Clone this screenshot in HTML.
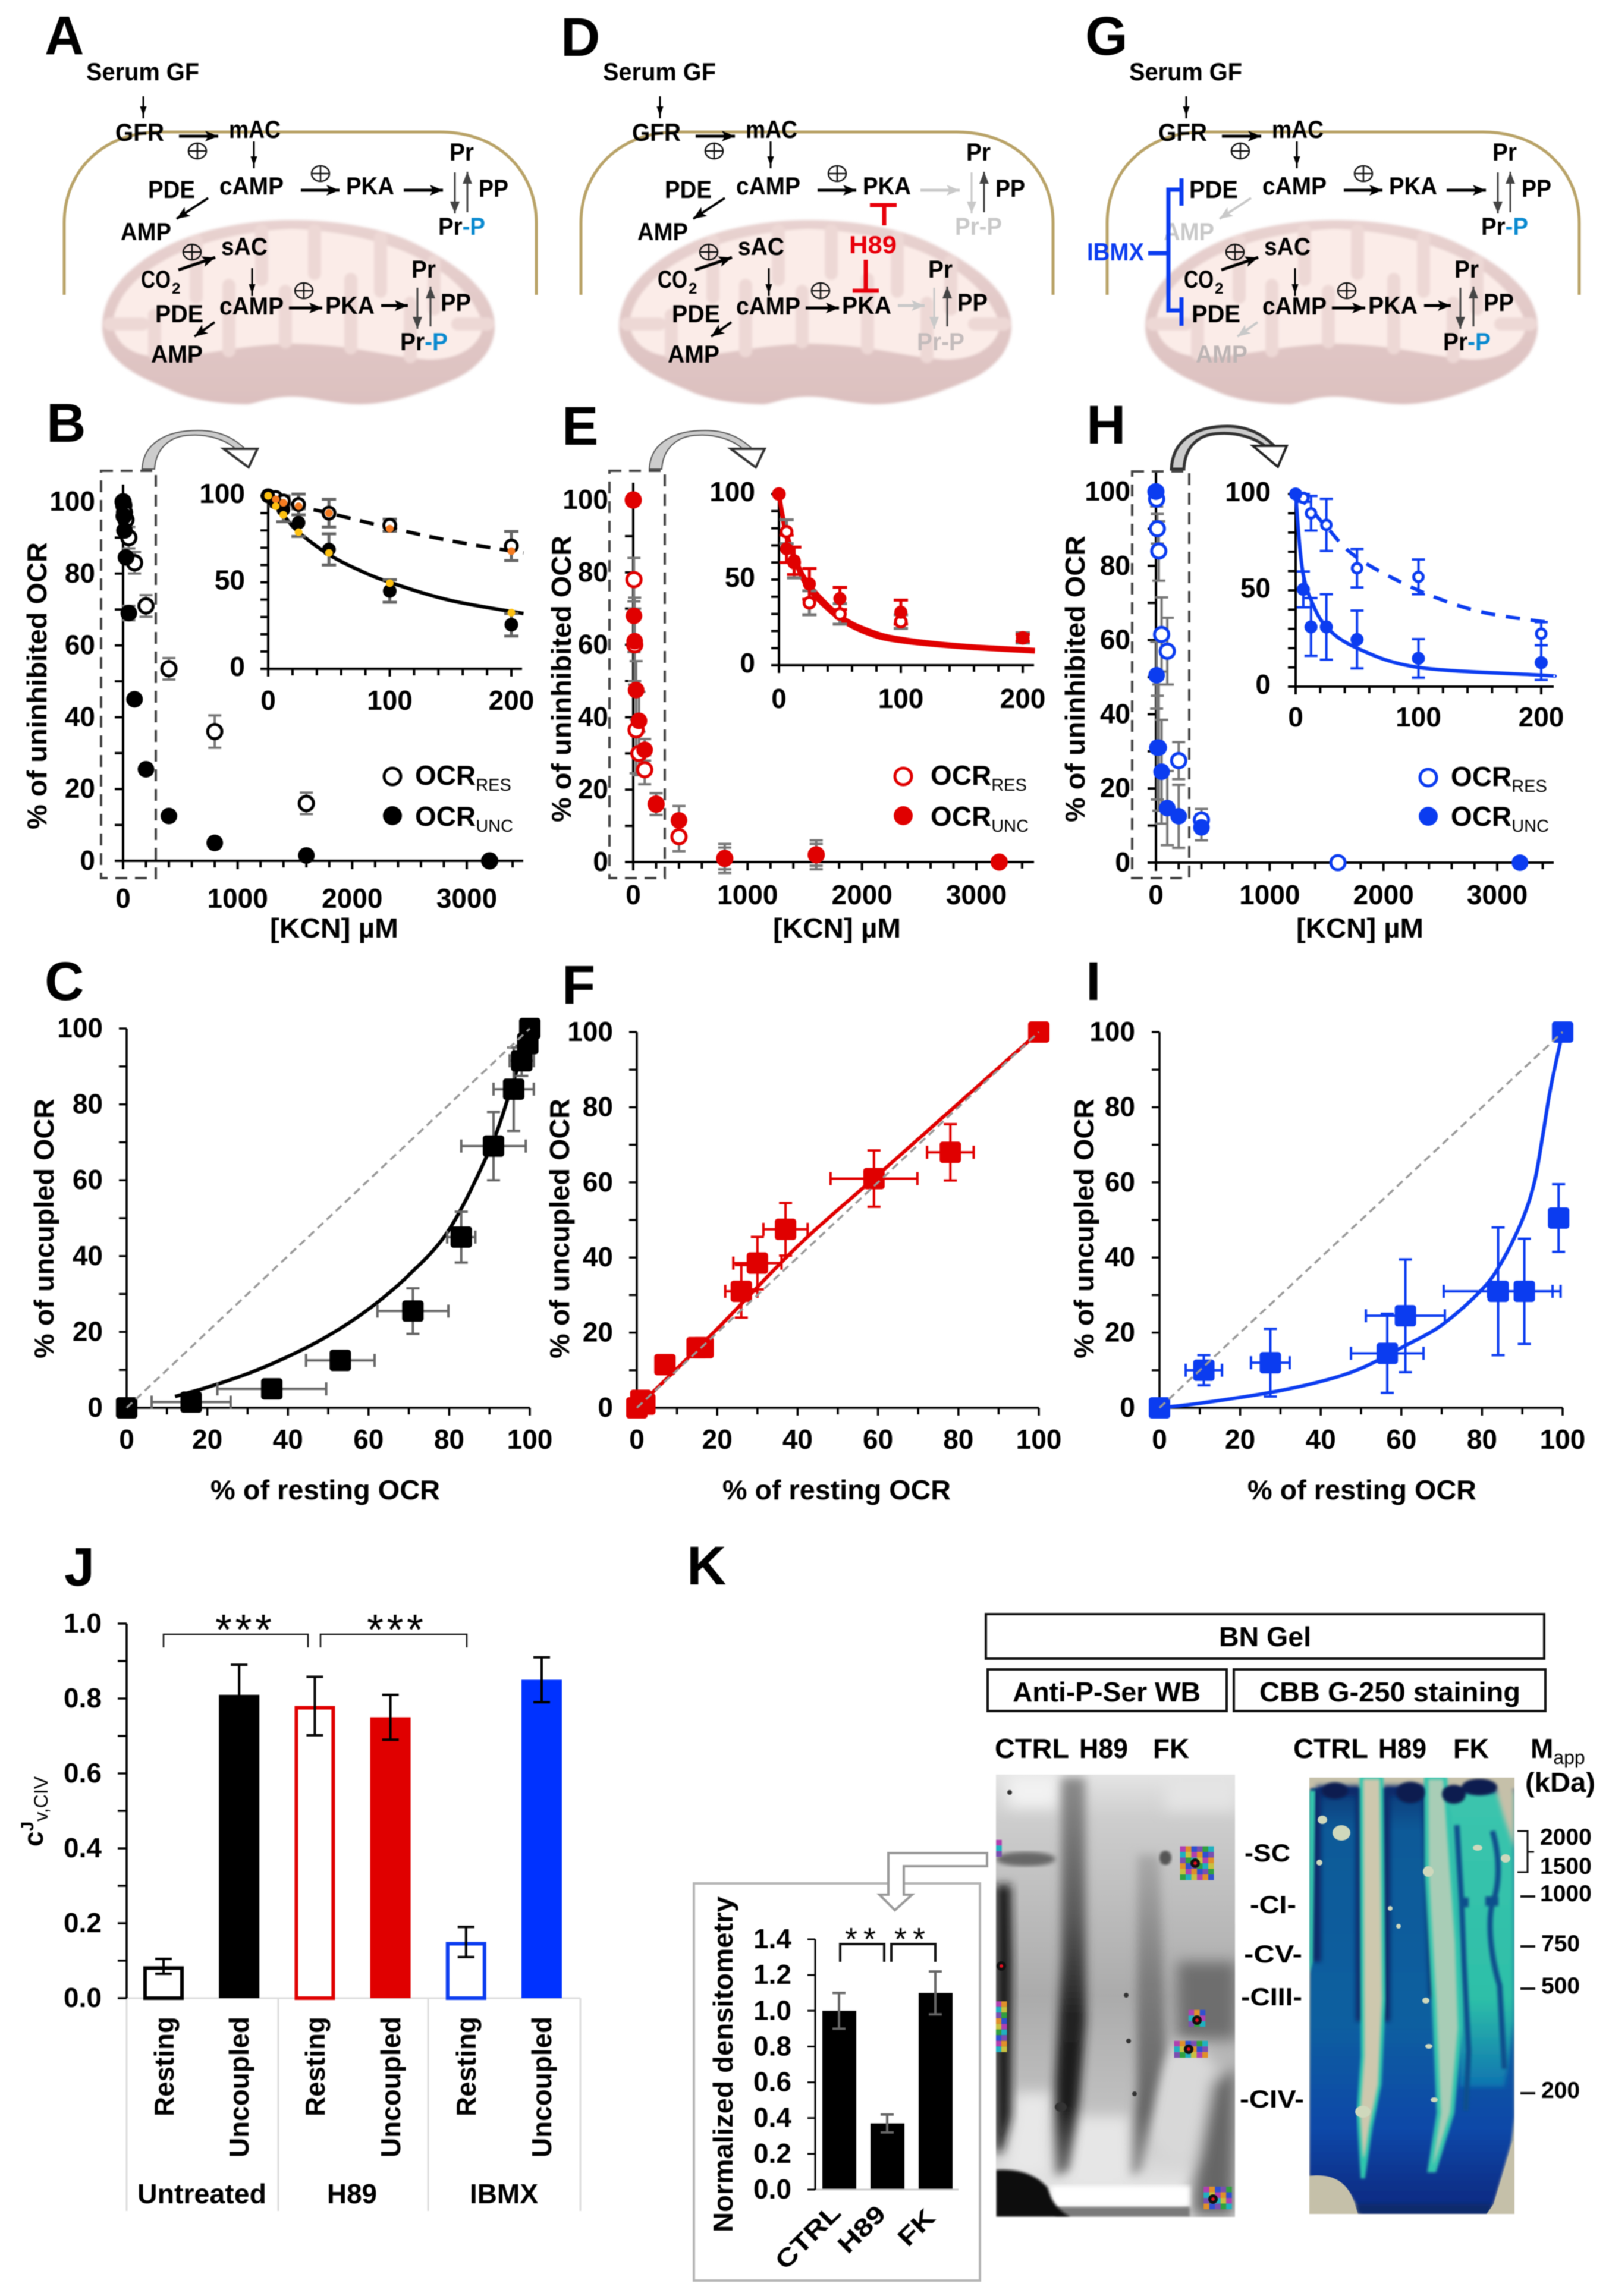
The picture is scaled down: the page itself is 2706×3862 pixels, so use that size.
<!DOCTYPE html>
<html lang="en">
<head>
<meta charset="utf-8">
<title>PKA regulation of mitochondrial respiration figure</title>
<style>
html,body{margin:0;padding:0;background:#fff;}
#figure{display:block;width:2706px;height:3862px;filter:blur(0.7px);}
text{font-family:"Liberation Sans",Arial,sans-serif;font-weight:700;fill:#000;}
.pl{font-size:92px;}
.pw text{font-size:42px;}
.t46{font-size:46px;}
.sub{font-size:29px;font-weight:400;}
.gl{font-size:46px;}
.mw{font-size:39px;}
.arrow{stroke:#000;stroke-width:5;fill:none;marker-end:url(#ah-k);}
.thin{stroke:#000;stroke-width:3;fill:none;marker-end:url(#ah-k2);}
.dk{stroke:#444;stroke-width:3;fill:none;marker-end:url(#ah-d);}
.off{stroke:#c9c9c9;stroke-width:5;fill:none;marker-end:url(#ah-l);}
.off2{stroke:#c9c9c9;stroke-width:3;fill:none;marker-end:url(#ah-l2);}
.box{fill:none;stroke:#444;stroke-width:4;stroke-dasharray:20 13;}
</style>
</head>
<body>
<svg id="figure" xmlns="http://www.w3.org/2000/svg" width="2706" height="3862" viewBox="0 0 2706 3862">
<defs>
<marker id="ah-k" markerUnits="userSpaceOnUse" markerWidth="24" markerHeight="20" refX="22" refY="10" orient="auto"><path d="M0,1L22,10L0,19L5,10Z" fill="#000"/></marker>
<marker id="ah-k2" markerUnits="userSpaceOnUse" markerWidth="16" markerHeight="22" refX="20" refY="9" orient="auto"><path d="M0,2L20,9L0,16Z" fill="#000" transform="translate(-4 0)"/></marker>
<marker id="ah-d" markerUnits="userSpaceOnUse" markerWidth="22" markerHeight="18" refX="20" refY="9" orient="auto"><path d="M0,1L20,9L0,17Z" fill="#444"/></marker>
<marker id="ah-l" markerUnits="userSpaceOnUse" markerWidth="24" markerHeight="20" refX="22" refY="10" orient="auto"><path d="M0,1L22,10L0,19L5,10Z" fill="#c9c9c9"/></marker>
<marker id="ah-l2" markerUnits="userSpaceOnUse" markerWidth="22" markerHeight="18" refX="20" refY="9" orient="auto"><path d="M0,1L20,9L0,17Z" fill="#c9c9c9"/></marker>
<linearGradient id="mito-fill" x1="0" y1="0" x2="0" y2="1"><stop offset="0" stop-color="#e8d2d0"/><stop offset="1" stop-color="#dcc0bf"/></linearGradient>
<linearGradient id="wb-bg" x1="0" y1="0" x2="0" y2="1"><stop offset="0" stop-color="#e4e4e4"/><stop offset=".1" stop-color="#cdcdcd"/><stop offset=".5" stop-color="#ababab"/><stop offset=".8" stop-color="#c4c4c4"/><stop offset=".95" stop-color="#e8e8e8"/></linearGradient>
<linearGradient id="wb-band-a" x1="0" y1="0" x2="0" y2="1"><stop offset="0" stop-color="#8c8c8c"/><stop offset=".35" stop-color="#5a5a5a"/><stop offset=".6" stop-color="#222"/><stop offset=".82" stop-color="#1a1a1a"/><stop offset="1" stop-color="#777"/></linearGradient>
<linearGradient id="wb-band-b" x1="0" y1="0" x2="0" y2="1"><stop offset="0" stop-color="#aaa"/><stop offset=".4" stop-color="#7c7c7c"/><stop offset=".8" stop-color="#666"/><stop offset="1" stop-color="#999"/></linearGradient>
<linearGradient id="cbb-blue" x1="0" y1="0" x2="0" y2="1"><stop offset="0" stop-color="#0d3a78"/><stop offset=".1" stop-color="#0f5a98"/><stop offset=".55" stop-color="#0f5fa0"/><stop offset=".8" stop-color="#0c48a8"/><stop offset=".95" stop-color="#0a2f88"/></linearGradient>
<linearGradient id="cbb-teal" x1="0" y1="0" x2="0" y2="1"><stop offset="0" stop-color="#3bc4ad"/><stop offset=".7" stop-color="#2dbfa8"/><stop offset="1" stop-color="#0e74b0"/></linearGradient>
<filter id="b12" x="-30%" y="-30%" width="160%" height="160%"><feGaussianBlur stdDeviation="12"/></filter>
<filter id="b8" x="-40%" y="-10%" width="180%" height="120%"><feGaussianBlur stdDeviation="8"/></filter>
<filter id="b4" x="-10%" y="-10%" width="120%" height="120%"><feGaussianBlur stdDeviation="4"/></filter>
<filter id="b2" x="-10%" y="-10%" width="120%" height="120%"><feGaussianBlur stdDeviation="2"/></filter>
<clipPath id="wb-clip"><rect x="1675" y="2985" width="402" height="744"/></clipPath>
<clipPath id="cbb-clip"><rect x="2202" y="2990" width="345" height="734"/></clipPath>
<g id="oplus"><ellipse cx="0" cy="0" rx="15" ry="13" fill="none" stroke="#111" stroke-width="2.5"/><path d="M-15,0H15M0,-13V13" stroke="#111" stroke-width="2.5"/></g>
<path id="membrane" d="M108,496V375C108,290 170,222 270,222H740C840,222 902,290 902,375V496" fill="none" stroke="#b9a368" stroke-width="5"/>
<g id="mito" filter="url(#b2)">
<path d="M172,549C172,480 240,430 300,405C360,380 430,370 491,370C570,370 650,385 701,411C770,445 832,490 832,549C832,590 800,625 752,643C700,665 650,680 606,680C560,680 530,667 491,667C450,667 430,680 415,680C370,680 320,672 287,656C240,636 172,610 172,549Z" fill="url(#mito-fill)"/>
<path d="M190,540C200,470 300,395 490,385C680,392 790,470 812,545C812,575 780,605 720,605C650,600 600,580 490,578C400,580 340,600 270,600C220,600 190,575 190,540Z" fill="#fbece8"/>
<path d="M330,405V500M440,388V470M529,388V460M640,400V490M730,440V520M260,595V530M385,590V480M480,575V490M590,585V470M690,600V510M185,545H240M820,545H770" stroke="#edd8d5" stroke-width="22" stroke-linecap="round" fill="none"/>
</g>
</defs>

<!-- Panel letters -->
<text class="pl" x="75" y="91">A</text>
<text class="pl" x="943" y="94">D</text>
<text class="pl" x="1825" y="92">G</text>
<text class="pl" x="78" y="743">B</text>
<text class="pl" x="945" y="748">E</text>
<text class="pl" x="1827" y="746">H</text>
<text class="pl" x="75" y="1682">C</text>
<text class="pl" x="945" y="1688">F</text>
<text class="pl" x="1826" y="1682">I</text>
<text class="pl" x="108" y="2667">J</text>
<text class="pl" x="1155" y="2665">K</text>

<!-- Panel A pathway -->
<g class="pw">
<use href="#mito"/>
<use href="#membrane"/>
<text x="145" y="135" textLength="190" lengthAdjust="spacingAndGlyphs">Serum GF</text>
<line class="thin" x1="241" y1="162" x2="241" y2="199"/>
<text x="194" y="237" textLength="82" lengthAdjust="spacingAndGlyphs">GFR</text>
<line class="arrow" x1="301" y1="229" x2="367" y2="229"/>
<use href="#oplus" x="332" y="254"/>
<text x="385" y="232" textLength="87" lengthAdjust="spacingAndGlyphs">mAC</text>
<line class="thin" x1="427" y1="238" x2="427" y2="283"/>
<text x="249" y="333" textLength="79" lengthAdjust="spacingAndGlyphs">PDE</text>
<text x="369" y="327" textLength="108" lengthAdjust="spacingAndGlyphs">cAMP</text>
<use href="#oplus" x="539" y="292"/>
<line class="arrow" x1="506" y1="320" x2="571" y2="320"/>
<text x="582" y="327" textLength="81" lengthAdjust="spacingAndGlyphs">PKA</text>
<line class="arrow" x1="679" y1="320" x2="745" y2="320"/>
<text x="756" y="270" textLength="41" lengthAdjust="spacingAndGlyphs">Pr</text>
<line class="dk" x1="765" y1="290" x2="765" y2="359"/>
<line class="dk" x1="786" y1="357" x2="786" y2="289"/>
<text x="805" y="331" textLength="50" lengthAdjust="spacingAndGlyphs">PP</text>
<text x="737" y="395" textLength="79" lengthAdjust="spacingAndGlyphs">Pr<tspan fill="#0a8ad0">-P</tspan></text>
<line class="arrow" x1="350" y1="333" x2="297" y2="368" style="stroke-width:4"/>
<text x="203" y="404" textLength="85" lengthAdjust="spacingAndGlyphs">AMP</text>
<use href="#oplus" x="323" y="424"/>
<text x="372" y="429" textLength="78" lengthAdjust="spacingAndGlyphs">sAC</text>
<line class="arrow" x1="300" y1="454" x2="362" y2="433"/>
<text x="237" y="484" textLength="50" lengthAdjust="spacingAndGlyphs">CO</text>
<text x="289" y="494" style="font-size:26px">2</text>
<line class="thin" x1="424" y1="451" x2="424" y2="498"/>
<use href="#oplus" x="511" y="489"/>
<text x="369" y="529" textLength="108" lengthAdjust="spacingAndGlyphs">cAMP</text>
<line class="arrow" x1="486" y1="518" x2="542" y2="518"/>
<text x="547" y="528" textLength="83" lengthAdjust="spacingAndGlyphs">PKA</text>
<line class="arrow" x1="641" y1="514" x2="686" y2="514"/>
<text x="261" y="542" textLength="81" lengthAdjust="spacingAndGlyphs">PDE</text>
<line class="arrow" x1="361" y1="542" x2="327" y2="566" style="stroke-width:4"/>
<text x="254" y="610" textLength="87" lengthAdjust="spacingAndGlyphs">AMP</text>
<text x="692" y="467" textLength="41" lengthAdjust="spacingAndGlyphs">Pr</text>
<line class="dk" x1="702" y1="484" x2="702" y2="553"/>
<line class="dk" x1="724" y1="549" x2="724" y2="482"/>
<text x="741" y="523" textLength="51" lengthAdjust="spacingAndGlyphs">PP</text>
<text x="673" y="589" textLength="80" lengthAdjust="spacingAndGlyphs">Pr<tspan fill="#0a8ad0">-P</tspan></text>
</g>

<!-- Panel D pathway -->
<g class="pw" transform="translate(869 0)">
<use href="#mito"/>
<use href="#membrane"/>
<text x="145" y="135" textLength="190" lengthAdjust="spacingAndGlyphs">Serum GF</text>
<line class="thin" x1="241" y1="162" x2="241" y2="199"/>
<text x="194" y="237" textLength="82" lengthAdjust="spacingAndGlyphs">GFR</text>
<line class="arrow" x1="301" y1="229" x2="367" y2="229"/>
<use href="#oplus" x="332" y="254"/>
<text x="385" y="232" textLength="87" lengthAdjust="spacingAndGlyphs">mAC</text>
<line class="thin" x1="427" y1="238" x2="427" y2="283"/>
<text x="249" y="333" textLength="79" lengthAdjust="spacingAndGlyphs">PDE</text>
<text x="369" y="327" textLength="108" lengthAdjust="spacingAndGlyphs">cAMP</text>
<use href="#oplus" x="539" y="292"/>
<line class="arrow" x1="506" y1="320" x2="571" y2="320"/>
<text x="582" y="327" textLength="81" lengthAdjust="spacingAndGlyphs">PKA</text>
<line class="off" x1="679" y1="320" x2="745" y2="320"/>
<text x="756" y="270" textLength="41" lengthAdjust="spacingAndGlyphs">Pr</text>
<line class="off2" x1="765" y1="290" x2="765" y2="359"/>
<line class="dk" x1="786" y1="357" x2="786" y2="289"/>
<text x="805" y="331" textLength="50" lengthAdjust="spacingAndGlyphs">PP</text>
<text x="737" y="395" textLength="79" lengthAdjust="spacingAndGlyphs" style="fill:#c9c9c9">Pr-P</text>
<line class="arrow" x1="350" y1="333" x2="297" y2="368" style="stroke-width:4"/>
<text x="203" y="404" textLength="85" lengthAdjust="spacingAndGlyphs">AMP</text>
<use href="#oplus" x="323" y="424"/>
<text x="372" y="429" textLength="78" lengthAdjust="spacingAndGlyphs">sAC</text>
<line class="arrow" x1="300" y1="454" x2="362" y2="433"/>
<text x="237" y="484" textLength="50" lengthAdjust="spacingAndGlyphs">CO</text>
<text x="289" y="494" style="font-size:26px">2</text>
<line class="thin" x1="424" y1="451" x2="424" y2="498"/>
<use href="#oplus" x="511" y="489"/>
<text x="369" y="529" textLength="108" lengthAdjust="spacingAndGlyphs">cAMP</text>
<line class="arrow" x1="486" y1="518" x2="542" y2="518"/>
<text x="547" y="528" textLength="83" lengthAdjust="spacingAndGlyphs">PKA</text>
<line class="off" x1="641" y1="514" x2="686" y2="514"/>
<text x="261" y="542" textLength="81" lengthAdjust="spacingAndGlyphs">PDE</text>
<line class="arrow" x1="361" y1="542" x2="327" y2="566" style="stroke-width:4"/>
<text x="254" y="610" textLength="87" lengthAdjust="spacingAndGlyphs">AMP</text>
<text x="692" y="467" textLength="41" lengthAdjust="spacingAndGlyphs">Pr</text>
<line class="off2" x1="702" y1="484" x2="702" y2="553"/>
<line class="dk" x1="724" y1="549" x2="724" y2="482"/>
<text x="741" y="523" textLength="51" lengthAdjust="spacingAndGlyphs">PP</text>
<text x="673" y="589" textLength="80" lengthAdjust="spacingAndGlyphs" style="fill:#c4bcbc">Pr-P</text>
</g>
<g>
<path d="M1463,345H1508M1487,345V379" stroke="#e8000b" stroke-width="7" fill="none"/>
<text x="1428" y="426" textLength="80" lengthAdjust="spacingAndGlyphs" style="font-size:42px;fill:#e8000b">H89</text>
<path d="M1456,437V489M1434,489H1478" stroke="#e8000b" stroke-width="7" fill="none"/>
</g>

<!-- Panel G pathway -->
<g class="pw" transform="translate(1754 0)">
<use href="#mito"/>
<use href="#membrane"/>
<text x="145" y="135" textLength="190" lengthAdjust="spacingAndGlyphs">Serum GF</text>
<line class="thin" x1="241" y1="162" x2="241" y2="199"/>
<text x="194" y="237" textLength="82" lengthAdjust="spacingAndGlyphs">GFR</text>
<line class="arrow" x1="301" y1="229" x2="367" y2="229"/>
<use href="#oplus" x="332" y="254"/>
<text x="385" y="232" textLength="87" lengthAdjust="spacingAndGlyphs">mAC</text>
<line class="thin" x1="427" y1="238" x2="427" y2="283"/>
<text x="246" y="333" textLength="82" lengthAdjust="spacingAndGlyphs">PDE</text>
<text x="369" y="327" textLength="108" lengthAdjust="spacingAndGlyphs">cAMP</text>
<use href="#oplus" x="539" y="292"/>
<line class="arrow" x1="506" y1="320" x2="571" y2="320"/>
<text x="582" y="327" textLength="81" lengthAdjust="spacingAndGlyphs">PKA</text>
<line class="arrow" x1="679" y1="320" x2="745" y2="320"/>
<text x="756" y="270" textLength="41" lengthAdjust="spacingAndGlyphs">Pr</text>
<line class="dk" x1="765" y1="290" x2="765" y2="359"/>
<line class="dk" x1="786" y1="357" x2="786" y2="289"/>
<text x="805" y="331" textLength="50" lengthAdjust="spacingAndGlyphs">PP</text>
<text x="737" y="395" textLength="79" lengthAdjust="spacingAndGlyphs">Pr<tspan fill="#0a8ad0">-P</tspan></text>
<line class="off" x1="350" y1="333" x2="297" y2="368" style="stroke-width:4"/>
<text x="203" y="404" textLength="85" lengthAdjust="spacingAndGlyphs" style="fill:#c9c9c9">AMP</text>
<use href="#oplus" x="323" y="424"/>
<text x="372" y="429" textLength="78" lengthAdjust="spacingAndGlyphs">sAC</text>
<line class="arrow" x1="300" y1="454" x2="362" y2="433"/>
<text x="237" y="484" textLength="50" lengthAdjust="spacingAndGlyphs">CO</text>
<text x="289" y="494" style="font-size:26px">2</text>
<line class="thin" x1="424" y1="451" x2="424" y2="498"/>
<use href="#oplus" x="511" y="489"/>
<text x="369" y="529" textLength="108" lengthAdjust="spacingAndGlyphs">cAMP</text>
<line class="arrow" x1="486" y1="518" x2="542" y2="518"/>
<text x="547" y="528" textLength="83" lengthAdjust="spacingAndGlyphs">PKA</text>
<line class="arrow" x1="641" y1="514" x2="686" y2="514"/>
<text x="250" y="542" textLength="82" lengthAdjust="spacingAndGlyphs">PDE</text>
<line class="off" x1="361" y1="542" x2="327" y2="566" style="stroke-width:4"/>
<text x="257" y="610" textLength="87" lengthAdjust="spacingAndGlyphs" style="fill:#bdb5b5">AMP</text>
<text x="692" y="467" textLength="41" lengthAdjust="spacingAndGlyphs">Pr</text>
<line class="dk" x1="702" y1="484" x2="702" y2="553"/>
<line class="dk" x1="724" y1="549" x2="724" y2="482"/>
<text x="741" y="523" textLength="51" lengthAdjust="spacingAndGlyphs">PP</text>
<text x="673" y="589" textLength="80" lengthAdjust="spacingAndGlyphs">Pr<tspan fill="#0a8ad0">-P</tspan></text>
</g>
<g>
<text x="1828" y="438" textLength="96" lengthAdjust="spacingAndGlyphs" style="font-size:42px;fill:#0b3cf0">IBMX</text>
<path d="M1931,426H1965M1987,300V346M1987,319H1965V522H1987M1987,500V548" stroke="#0b3cf0" stroke-width="7" fill="none"/>
</g>

<!-- Kinetics panel decorations -->
<g><path d="M239,789C241,745 280,724 333,724C370,724 395,738 412,755L396,755C380,740 350,730 320,732C285,733 262,755 260,789Z" fill="#ccc" stroke="#555" stroke-width="2"/><path d="M376,755H433L418,786Z" fill="#fff" stroke="#333" stroke-width="4"/></g>
<g transform="translate(853 0)"><path d="M239,789C241,745 280,724 333,724C370,724 395,738 412,755L396,755C380,740 350,730 320,732C285,733 262,755 260,789Z" fill="#ccc" stroke="#555" stroke-width="2"/><path d="M376,755H433L418,786Z" fill="#fff" stroke="#333" stroke-width="4"/></g>
<g transform="translate(1731 -5)"><path d="M239,794C241,745 280,722 333,722C370,722 395,738 412,755L396,755C380,742 350,732 320,734C285,735 262,755 260,794Z" fill="#ccc" stroke="#333" stroke-width="5"/><path d="M376,755H433L418,790Z" fill="#fff" stroke="#222" stroke-width="4"/></g>
<rect class="box" x="170" y="792" width="92" height="685"/>
<rect class="box" x="1025" y="792" width="93" height="685"/>
<rect class="box" x="1904" y="793" width="96" height="684"/>

<!-- axis titles -->
<text class="t46" transform="rotate(-90 78 1395)" x="78" y="1395" textLength="483" lengthAdjust="spacingAndGlyphs">% of uninhibited OCR</text>
<text class="t46" transform="rotate(-90 960 1383)" x="960" y="1383" textLength="482" lengthAdjust="spacingAndGlyphs">% of uninhibited OCR</text>
<text class="t46" transform="rotate(-90 1824 1383)" x="1824" y="1383" textLength="482" lengthAdjust="spacingAndGlyphs">% of uninhibited OCR</text>
<text class="t46" x="454" y="1577" textLength="216" lengthAdjust="spacingAndGlyphs">[KCN] µM</text>
<text class="t46" x="1300" y="1577" textLength="215" lengthAdjust="spacingAndGlyphs">[KCN] µM</text>
<text class="t46" x="2180" y="1577" textLength="214" lengthAdjust="spacingAndGlyphs">[KCN] µM</text>
<text class="t46" transform="rotate(-90 90 2285)" x="90" y="2285" textLength="437" lengthAdjust="spacingAndGlyphs">% of uncupled OCR</text>
<text class="t46" transform="rotate(-90 957 2285)" x="957" y="2285" textLength="437" lengthAdjust="spacingAndGlyphs">% of uncupled OCR</text>
<text class="t46" transform="rotate(-90 1839 2285)" x="1839" y="2285" textLength="437" lengthAdjust="spacingAndGlyphs">% of uncupled OCR</text>
<text class="t46" x="354" y="2522" textLength="386" lengthAdjust="spacingAndGlyphs">% of resting OCR</text>
<text class="t46" x="1215" y="2522" textLength="384" lengthAdjust="spacingAndGlyphs">% of resting OCR</text>
<text class="t46" x="2098" y="2522" textLength="385" lengthAdjust="spacingAndGlyphs">% of resting OCR</text>

<!-- legends -->
<g>
<circle cx="660" cy="1306" r="14" fill="#fff" stroke="#000" stroke-width="5"/>
<text class="t46" x="698" y="1320">OCR<tspan class="sub" dy="10">RES</tspan></text>
<circle cx="660" cy="1372" r="16" fill="#000"/>
<text class="t46" x="698" y="1389">OCR<tspan class="sub" dy="10">UNC</tspan></text>
</g>
<g>
<circle cx="1519" cy="1306" r="14" fill="#fff" stroke="#e00000" stroke-width="5"/>
<text class="t46" x="1565" y="1320">OCR<tspan class="sub" dy="10">RES</tspan></text>
<circle cx="1519" cy="1372" r="16" fill="#e00000"/>
<text class="t46" x="1565" y="1389">OCR<tspan class="sub" dy="10">UNC</tspan></text>
</g>
<g>
<circle cx="2402" cy="1308" r="14" fill="#fff" stroke="#0b3cf0" stroke-width="5"/>
<text class="t46" x="2440" y="1322">OCR<tspan class="sub" dy="10">RES</tspan></text>
<circle cx="2402" cy="1373" r="16" fill="#0b3cf0"/>
<text class="t46" x="2440" y="1389">OCR<tspan class="sub" dy="10">UNC</tspan></text>
</g>

<!-- Panel J static -->
<g>
<path d="M213,3361H976M213,3361V3719M468,3361V3719M720,3361V3719M976,3361V3719" stroke="#ddd" stroke-width="3" fill="none"/>
<text class="t46" transform="rotate(-90 292 3560)" x="292" y="3560" textLength="168" lengthAdjust="spacingAndGlyphs">Resting</text>
<text class="t46" transform="rotate(-90 418 3629)" x="418" y="3629" textLength="237" lengthAdjust="spacingAndGlyphs">Uncoupled</text>
<text class="t46" transform="rotate(-90 546 3560)" x="546" y="3560" textLength="168" lengthAdjust="spacingAndGlyphs">Resting</text>
<text class="t46" transform="rotate(-90 673 3629)" x="673" y="3629" textLength="237" lengthAdjust="spacingAndGlyphs">Uncoupled</text>
<text class="t46" transform="rotate(-90 800 3560)" x="800" y="3560" textLength="168" lengthAdjust="spacingAndGlyphs">Resting</text>
<text class="t46" transform="rotate(-90 927 3629)" x="927" y="3629" textLength="237" lengthAdjust="spacingAndGlyphs">Uncoupled</text>
<text class="t46" x="231" y="3706" textLength="217" lengthAdjust="spacingAndGlyphs">Untreated</text>
<text class="t46" x="550" y="3706" textLength="84" lengthAdjust="spacingAndGlyphs">H89</text>
<text class="t46" x="790" y="3706" textLength="115" lengthAdjust="spacingAndGlyphs">IBMX</text>
<text transform="rotate(-90 72 3106)" x="72" y="3106" style="font-size:46px">c<tspan dy="-16" style="font-size:30px">J</tspan><tspan dy="24" style="font-size:32px;font-weight:400">v,CIV</tspan></text>
<text x="362" y="2766" textLength="95" style="font-size:72px;font-weight:400">***</text>
<text x="617" y="2766" textLength="95" style="font-size:72px;font-weight:400">***</text>
<path d="M275,2771V2749H518V2771" stroke="#111" stroke-width="2.5" fill="none"/>
<path d="M539,2771V2749H785V2771" stroke="#111" stroke-width="2.5" fill="none"/>
</g>

<!-- Panel K headers -->
<g>
<rect x="1658" y="2715" width="939" height="75" fill="none" stroke="#111" stroke-width="4"/>
<text class="gl" x="2050" y="2769" textLength="155" lengthAdjust="spacingAndGlyphs">BN Gel</text>
<rect x="1661" y="2808" width="402" height="70" fill="none" stroke="#111" stroke-width="4"/>
<text class="gl" x="1703" y="2862" textLength="316" lengthAdjust="spacingAndGlyphs">Anti-P-Ser WB</text>
<rect x="2075" y="2808" width="524" height="70" fill="none" stroke="#111" stroke-width="4"/>
<text class="gl" x="2118" y="2862" textLength="439" lengthAdjust="spacingAndGlyphs">CBB G-250 staining</text>
<text class="gl" x="1673" y="2957" textLength="125" lengthAdjust="spacingAndGlyphs">CTRL</text>
<text class="gl" x="1815" y="2957" textLength="82" lengthAdjust="spacingAndGlyphs">H89</text>
<text class="gl" x="1939" y="2957" textLength="61" lengthAdjust="spacingAndGlyphs">FK</text>
<text class="gl" x="2175" y="2957" textLength="126" lengthAdjust="spacingAndGlyphs">CTRL</text>
<text class="gl" x="2318" y="2957" textLength="81" lengthAdjust="spacingAndGlyphs">H89</text>
<text class="gl" x="2444" y="2957" textLength="60" lengthAdjust="spacingAndGlyphs">FK</text>
<text class="gl" x="2574" y="2957">M<tspan class="sub" dy="10" style="font-size:32px">app</tspan></text>
<text class="gl" x="2565" y="3014" textLength="118" lengthAdjust="spacingAndGlyphs">(kDa)</text>
</g>

<!-- Western blot gel -->
<g clip-path="url(#wb-clip)">
<rect x="1675" y="2985" width="402" height="744" fill="url(#wb-bg)"/>
<g filter="url(#b12)">
<rect x="1695" y="2985" width="85" height="55" fill="#f2f2f2"/>
<polygon points="1705,3520 1770,3520 1765,3660 1690,3660" fill="#e8e8e8"/>
<polygon points="1810,3560 1900,3560 1900,3680 1790,3680" fill="#e6e6e6"/>
<ellipse cx="1990" cy="3540" rx="70" ry="100" fill="#d8d8d8"/>
<rect x="1980" y="3300" width="100" height="130" fill="#6e6e6e"/>
<rect x="1960" y="2985" width="120" height="60" fill="#e4e4e4"/>
<polygon points="2040,3500 2077,3480 2077,3729 2005,3729 2005,3690" fill="#666"/>
</g>
<polygon filter="url(#b8)" points="1785,2990 1825,2990 1826,3400 1815,3530 1798,3650 1775,3660 1775,3500 1785,3300" fill="url(#wb-band-a)"/>
<polygon filter="url(#b8)" points="1913,3120 1950,3120 1960,3450 1945,3520 1920,3650 1902,3660 1912,3500" fill="url(#wb-band-b)"/>
<polygon filter="url(#b8)" points="1675,3170 1700,3170 1702,3300 1700,3560 1685,3620 1675,3620" fill="#151515"/>
<ellipse cx="1725" cy="3127" rx="50" ry="12" fill="#666" filter="url(#b4)"/>
<ellipse cx="1960" cy="3125" rx="10" ry="12" fill="#555" filter="url(#b2)"/>
<rect x="1768" y="3677" width="233" height="35" fill="#fff" filter="url(#b4)"/>
<rect x="1775" y="3712" width="226" height="17" fill="#7a7a7a" filter="url(#b2)"/>
<path d="M1675,3650C1710,3648 1740,3655 1762,3680C1768,3700 1775,3715 1800,3729H1675Z" fill="#0a0a0a" filter="url(#b2)"/>
<g fill="#333"><circle cx="1698" cy="3015" r="4"/><circle cx="1894" cy="3356" r="4"/><circle cx="1898" cy="3433" r="4"/><circle cx="1908" cy="3522" r="4"/><ellipse cx="1784" cy="3544" rx="10" ry="8"/></g>
<g id="wb-speckle"></g>
</g>

<!-- CBB gel -->
<g clip-path="url(#cbb-clip)">
<rect x="2202" y="2990" width="345" height="734" fill="#c5c0a9"/>
<polygon points="2204,3008 2547,3008 2547,3560 2542,3602 2512,3707 2500,3724 2290,3724 2270,3690 2202,3660" fill="url(#cbb-blue)" filter="url(#b2)"/>
<g stroke="#0a2a6a" fill="none" filter="url(#b4)">
<path d="M2214,3012H2288" stroke-width="18"/><path d="M2288,3012V3400" stroke-width="16"/><path d="M2214,3012V3300" stroke-width="16"/>
<path d="M2326,3012H2398" stroke-width="18"/><path d="M2330,3012V3400" stroke-width="16"/><path d="M2400,3012L2412,3360" stroke-width="16"/>
<path d="M2280,3716H2510" stroke-width="18"/>
</g>
<polygon filter="url(#b4)" points="2430,3015 2547,3015 2547,3400 2530,3510 2455,3510 2450,3250" fill="url(#cbb-teal)"/>
<g stroke="#0b4f8c" fill="none" stroke-width="9" filter="url(#b2)">
<path d="M2450,3070L2458,3200L2462,3300L2470,3450L2465,3550"/>
<path d="M2510,3080C2525,3130 2520,3180 2510,3200C2500,3240 2510,3300 2522,3340L2530,3480"/>
<path d="M2455,3200H2470M2498,3198H2520" stroke-width="16"/>
</g>
<polygon points="2290,2990 2323,2990 2327,3363 2320,3506 2305,3578 2292,3664 2285,3554 2292,3458" fill="#cdc8ae" stroke="#2fc6ad" stroke-width="7" filter="url(#b2)"/>
<polygon points="2399,2990 2430,2990 2450,3267 2455,3411 2442,3554 2412,3650 2405,3650 2420,3554 2412,3363 2400,3150" fill="#a8cdb6" stroke="#35c6ae" stroke-width="8" filter="url(#b2)"/>
<polygon points="2510,2990 2547,2990 2547,3110 2530,3060" fill="#c5c0a9" filter="url(#b4)"/>
<polygon points="2202,3012 2212,3012 2208,3300 2202,3320" fill="#35c8ae" filter="url(#b2)"/>
<g fill="#0a1f50" filter="url(#b2)"><ellipse cx="2245" cy="3012" rx="22" ry="14"/><ellipse cx="2372" cy="3015" rx="24" ry="18"/><ellipse cx="2488" cy="3006" rx="30" ry="14"/><ellipse cx="2445" cy="3018" rx="20" ry="16"/></g>
<path d="M2202,3660C2240,3655 2265,3670 2276,3700L2284,3724H2202Z" fill="#c5c0a9"/>
<polygon points="2544,3602 2512,3707 2500,3724 2550,3724 2550,3600" fill="#c5c0a9"/>
<g fill="#cfd8bc">
<ellipse cx="2224" cy="3061" rx="8" ry="7"/><ellipse cx="2256" cy="3083" rx="15" ry="13"/><circle cx="2219" cy="3133" r="5"/><ellipse cx="2402" cy="3148" rx="9" ry="9"/><circle cx="2338" cy="3210" r="4"/><circle cx="2352" cy="3240" r="4"/><ellipse cx="2403" cy="3442" rx="6" ry="4"/><ellipse cx="2398" cy="3365" rx="6" ry="5"/><ellipse cx="2412" cy="3532" rx="6" ry="4"/><ellipse cx="2292" cy="3552" rx="13" ry="10"/><ellipse cx="2485" cy="3108" rx="8" ry="5"/><ellipse cx="2532" cy="3126" rx="8" ry="7"/>
</g>
</g>

<!-- Gel band & MW labels -->
<g>
<text class="gl" x="2093" y="3131" textLength="77" lengthAdjust="spacingAndGlyphs" style="font-size:42px">-SC</text>
<text class="gl" x="2102" y="3218" textLength="78" lengthAdjust="spacingAndGlyphs" style="font-size:42px">-CI-</text>
<text class="gl" x="2092" y="3301" textLength="98" lengthAdjust="spacingAndGlyphs" style="font-size:42px">-CV-</text>
<text class="gl" x="2087" y="3373" textLength="103" lengthAdjust="spacingAndGlyphs" style="font-size:42px">-CIII-</text>
<text class="gl" x="2085" y="3545" textLength="108" lengthAdjust="spacingAndGlyphs" style="font-size:42px">-CIV-</text>
</g>
<g>
<text class="mw" x="2590" y="3103">2000</text>
<text class="mw" x="2590" y="3152">1500</text>
<text class="mw" x="2590" y="3198">1000</text>
<text class="mw" x="2592" y="3282">750</text>
<text class="mw" x="2592" y="3353">500</text>
<text class="mw" x="2592" y="3529">200</text>
<path d="M2557,3190H2582M2557,3274H2582M2557,3345H2582M2557,3521H2582" stroke="#111" stroke-width="4" fill="none"/>
<path d="M2552,3080H2569V3149H2552M2569,3115H2580" stroke="#111" stroke-width="3" fill="none"/>
</g>

<!-- Densitometry inset -->
<g>
<rect x="1167" y="3168" width="481" height="668" fill="#fff" stroke="#b5b5b5" stroke-width="4"/>
<path d="M1660,3117H1494V3187H1479L1505,3213L1534,3187H1520V3139H1660Z" fill="#fff" stroke="#999" stroke-width="4"/>
<text class="t46" transform="rotate(-90 1232 3755)" x="1232" y="3755" textLength="565" lengthAdjust="spacingAndGlyphs">Normalized densitometry</text>
<text transform="rotate(-45 1321 3820)" x="1321" y="3820" style="font-size:42px" textLength="135" lengthAdjust="spacingAndGlyphs">CTRL</text>
<text transform="rotate(-45 1426 3793)" x="1426" y="3793" style="font-size:42px" textLength="94" lengthAdjust="spacingAndGlyphs">H89</text>
<text transform="rotate(-45 1527 3781)" x="1527" y="3781" style="font-size:42px" textLength="68" lengthAdjust="spacingAndGlyphs">FK</text>
<text x="1421" y="3280" style="font-size:54px;font-weight:400" textLength="52">**</text>
<text x="1504" y="3280" style="font-size:54px;font-weight:400" textLength="52">**</text>
<path d="M1413,3300V3270H1487V3300" stroke="#111" stroke-width="4" fill="none"/>
<path d="M1499,3300V3270H1573V3300" stroke="#111" stroke-width="4" fill="none"/>
</g>

<g id="charts"></g>
</svg>

<script>
// ---- Shared axis values ----
const kcnConc = [0, 6.25, 12.5, 25, 50, 100, 200, 400, 800, 1600, 3200];
const kcnXTicks = [0, 1000, 2000, 3000];
const kcnXMinor = [200, 400, 600, 800, 1200, 1400, 1600, 1800, 2200, 2400, 2600, 2800, 3200, 3400];
const pctTicks = [0, 20, 40, 60, 80, 100];
const pctMinor = [10, 30, 50, 70, 90];
const insetXTicks = [0, 100, 200];
const insetXMinor = [20, 40, 60, 80, 120, 140, 160, 180];
const insetYTicks = [0, 50, 100];
const insetYMinor = [10, 20, 30, 40, 60, 70, 80, 90];

// ---- Panel B values ----
const bRes = [100, 99, 97, 95, 90, 83, 71, 53.5, 36, 16, 0];
const bUnc = [100, 96, 92, 84.5, 69, 45, 25.5, 12.5, 5, 1.5, 0];
const bResErrMain = [0, 0, 1, 2, 3, 3, 3, 3, 4.5, 3, 0];
const bUncErrMain = [0, 0, 0, 0, 2, 0, 0, 0, 0, 0, 0];
const bResErrInset = [0, 1, 3, 6, 8, 3.5, 8.4];
const bUncErrInset = [0, 2, 7, 8, 9, 6.5, 6.5];
const bResFit = [100, 98, 96, 94, 90, 81, 68];
const bUncFit = [100, 94, 89, 79, 67, 49.5, 32.5];
const bResCurveX = [0, 25, 50, 100, 150, 210];
const bResCurveY = [100, 94, 90, 81.5, 74, 67];
const bUncCurveX = [0, 12.5, 25, 50, 75, 100, 150, 210];
const bUncCurveY = [100, 89, 79, 66, 57, 50, 39.5, 32];

// ---- Panel E values ----
const eRes = [100, 78, 60, 36.5, 30, 25.5, 16, 7, 1, 2, 0];
const eUnc = [100, 68, 61, 47.5, 39, 31, 16, 11.5, 1, 2, 0];
const eResErrMain = [0, 6, 10, 12, 6, 4, 3, 4, 3, 4, 0];
const eUncErrMain = [0, 10, 12, 8, 8, 3, 3, 4, 4, 3, 0];
const eResErrInset = [0, 7, 9, 7, 6, 4, 3];
const eUncErrInset = [0, 8, 8, 9, 6.5, 7, 2];
const eResCurveX = [0, 5, 12.5, 25, 50, 75, 100, 150, 210];
const eResCurveY = [100, 79, 62, 44, 27, 18, 14, 10.5, 8];
const eUncCurveX = [0, 5, 12.5, 25, 50, 75, 100, 150, 210];
const eUncCurveY = [100, 81, 64, 47, 29, 20, 15.5, 11.5, 9];

// ---- Panel H values ----
const hRes = [100, 98, 90, 84, 61.5, 57, 27.5, 11.5, null, 0, null];
const hUnc = [100, 50.5, 31, 31, 24.5, 14.7, 12.5, 9.5, null, null, 0];
const hResErrMain = [0, 2, 4, 8, 10, 9, 5, 3, 1, 1, 0];
const hUncErrMain = [0, 9, 14, 17, 14, 10, 8.5, 3.5, 0, 0, 0];
const hResErrInset = [0, 2, 9, 13.5, 10, 9, 6];
const hUncErrInset = [0, 9.3, 15, 17, 15, 10, 9];
const hResCurveX = [0, 12.5, 25, 50, 100, 150, 210];
const hResCurveY = [100, 92, 83, 67, 50, 39, 33];
const hUncCurveX = [0, 3, 6.25, 12.5, 25, 50, 100, 200, 210];
const hUncCurveY = [100, 75, 58, 45, 31, 20, 10, 6, 5.5];

// ---- Panel C values ----
const cResting = [0, 16, 36, 53, 71, 83, 91, 96, 98, 99.5, 100];
const cUncoupled = [0, 1.5, 5, 12.5, 25.5, 45, 69, 84, 91.5, 96, 100];
const cXErr = [0, 9.8, 13.5, 8.5, 8.8, 3.5, 8, 5, 3, 0, 0];
const cYErr = [0, 0, 0, 0, 6, 6.7, 9, 11, 4, 0, 0];
const cCurveX = [12, 20, 30, 40, 50, 60, 70, 80, 90, 95, 100];
const cCurveY = [3, 5.4, 9, 13.5, 19, 26, 35, 47, 68, 83, 100];

// ---- Panel F values ----
const fResting = [0, 1, 2, 7, 15, 16.5, 26, 30, 37, 59, 78, 100];
const fUncoupled = [0, 2, 1, 11.5, 16, 16, 31, 38.5, 47.5, 61, 68, 100];
const fXErr = [0, 0, 0, 0, 0, 0, 4, 6, 5.5, 10.8, 5.8, 0];
const fYErr = [0, 0, 0, 0, 0, 0, 7, 7, 7, 7.5, 7.5, 0];
const fCurveX = [0, 20, 40, 60, 80, 100];
const fCurveY = [0, 21, 43, 62, 81, 100];

// ---- Panel I values ----
const iResting = [0, 11, 27.5, 56.5, 61, 84, 90.5, 99, 100];
const iUncoupled = [0, 10, 12, 14.5, 24.5, 31, 31, 50.5, 100];
const iXErr = [0, 4.5, 4.8, 9, 9.8, 13.5, 9, 2, 0];
const iYErr = [0, 4, 9, 10.5, 15, 17, 14, 9, 0];
const iCurveX = [0, 10, 27, 40, 50, 60, 70, 80, 85, 90, 93, 95, 97, 100];
const iCurveY = [0, 1.2, 4, 7, 10.5, 16, 22, 31.5, 39, 50, 60, 72, 85, 100];

// ---- Panel J values ----
const jValues = [0.085, 0.81, 0.78, 0.75, 0.15, 0.85];
const jErrors = [0.02, 0.08, 0.078, 0.06, 0.04, 0.06];
const jStyle = ['open', 'solid', 'open', 'solid', 'open', 'solid'];
const jColors = ['#000000', '#000000', '#e00000', '#e00000', '#0b3cf0', '#0032ff'];
const jTicks = [0, 0.2, 0.4, 0.6, 0.8, 1.0];
const jMinor = [0.1, 0.3, 0.5, 0.7, 0.9];

// ---- Panel K values ----
const kValues = [1.0, 0.37, 1.1];
const kErrors = [0.1, 0.05, 0.12];
const kTicks = [0, 0.2, 0.4, 0.6, 0.8, 1.0, 1.2, 1.4];

const NS = 'http://www.w3.org/2000/svg';
const chartsRoot = document.getElementById('charts');

function mk(tag, name, parent) {
  const el = document.createElementNS(NS, tag);
  
  
  parent.appendChild(el);
  return el;
}
function set(el, attrs) {
  for (const k in attrs) el.setAttribute(k, attrs[k]);
  return el;
}
function scale(a0, p0, a1, p1) {
  return v => p0 + (v - a0) * (p1 - p0) / (a1 - a0);
}
function segment(parent, name, x1, y1, x2, y2, color, w) {
  return set(mk('line', name, parent), {x1, y1, x2, y2, stroke: color, 'stroke-width': w});
}
function label(parent, name, txt, x, y, anchor, size) {
  const t = mk('text', name, parent);
  set(t, {x, y, 'text-anchor': anchor});
  t.style.fontSize = size + 'px';
  t.textContent = txt;
  return t;
}
function drawAxes(parent, sx, sy, o) {
  const x0 = sx(o.xStart), y0 = sy(o.yStart);
  segment(parent, 'y-axis-line', x0, y0, x0, o.yTop, '#000', o.w || 4);
  segment(parent, 'x-axis-line', x0, y0, o.xRight, y0, '#000', o.w || 4);
  o.xTicks.forEach(v => {
    segment(parent, 'x-tick', sx(v), y0, sx(v), y0 + o.major, '#000', o.w || 4);
    label(parent, 'x-tick-label', o.fmt ? o.fmt(v) : String(v), sx(v) + (o.xLabelDx || 0), o.xLabelY, 'middle', o.size);
  });
  o.xMinor.forEach(v => segment(parent, 'x-minor-tick', sx(v), y0, sx(v), y0 + o.minor, '#000', o.w || 4));
  o.yTicks.forEach(v => {
    segment(parent, 'y-tick', x0, sy(v), x0 - o.major, sy(v), '#000', o.w || 4);
    label(parent, 'y-tick-label', o.fmtY ? o.fmtY(v) : String(v), o.yLabelX, sy(v) + o.yLabelDy, 'end', o.size);
  });
  o.yMinor.forEach(v => segment(parent, 'y-minor-tick', x0, sy(v), x0 - o.major, sy(v), '#000', o.w || 4));
}
function smoothPath(xs, ys, sx, sy) {
  const p = xs.map((x, i) => [sx(x), sy(ys[i])]);
  let d = 'M' + p[0][0] + ',' + p[0][1];
  for (let i = 0; i < p.length - 1; i++) {
    const a = p[Math.max(i - 1, 0)], b = p[i], c = p[i + 1], e = p[Math.min(i + 2, p.length - 1)];
    const c1x = b[0] + (c[0] - a[0]) / 6, c1y = b[1] + (c[1] - a[1]) / 6;
    const c2x = c[0] - (e[0] - b[0]) / 6, c2y = c[1] - (e[1] - b[1]) / 6;
    d += 'C' + c1x + ',' + c1y + ' ' + c2x + ',' + c2y + ' ' + c[0] + ',' + c[1];
  }
  return d;
}
function drawCurve(parent, name, xs, ys, sx, sy, color, w, dash) {
  const el = mk('path', name, parent);
  set(el, {d: smoothPath(xs, ys, sx, sy), fill: 'none', stroke: color, 'stroke-width': w});
  if (dash) el.setAttribute('stroke-dasharray', dash);
  return el;
}
function errBars(parent, sx, sy, xs, ys, errs, color, w, cap) {
  xs.forEach((x, i) => {
    if (ys[i] === null || !errs[i]) return;
    const px = sx(x);
    const top = sy(ys[i] + errs[i]), bot = sy(ys[i] - errs[i]);
    segment(parent, 'error-bar', px, top, px, bot, color, w);
    segment(parent, 'error-cap', px - cap, top, px + cap, top, color, w);
    segment(parent, 'error-cap', px - cap, bot, px + cap, bot, color, w);
  });
}
function xErrBars(parent, sx, sy, xs, ys, errs, color, w, cap) {
  xs.forEach((x, i) => {
    if (!errs[i]) return;
    const py = sy(ys[i]);
    const l = sx(x - errs[i]), r = sx(Math.min(x + errs[i], 102));
    segment(parent, 'x-error-bar', l, py, r, py, color, w);
    segment(parent, 'x-error-cap', l, py - cap, l, py + cap, color, w);
    segment(parent, 'x-error-cap', r, py - cap, r, py + cap, color, w);
  });
}
function circles(parent, name, sx, sy, xs, ys, r, fill, stroke, sw) {
  xs.forEach((x, i) => {
    if (ys[i] === null) return;
    const c = mk('circle', name, parent);
    set(c, {cx: sx(x), cy: sy(ys[i]), r: r, fill: fill});
    if (stroke) set(c, {stroke: stroke, 'stroke-width': sw});
  });
}
function squares(parent, name, sx, sy, xs, ys, size, color) {
  xs.forEach((x, i) => {
    const s = mk('rect', name, parent);
    set(s, {x: sx(x) - size / 2, y: sy(ys[i]) - size / 2, width: size, height: size, rx: 5, fill: color});
  });
}

function kineticsPanel(id, g, res, unc, resErrM, uncErrM, resErrI, uncErrI, color) {
  const root = mk('g', 'panel-' + id + '-kinetics', chartsRoot);
  const main = mk('g', 'panel-' + id + '-main-plot', root);
  const mx = scale(0, g.mx0, 3000, g.mx3000), my = scale(0, g.my0, 100, g.my100);
  drawAxes(main, mx, my, {xStart: 0, yStart: 0, yTop: g.mTop, xRight: g.mRight, xTicks: kcnXTicks, xMinor: kcnXMinor,
    yTicks: pctTicks, yMinor: pctMinor, major: 14, minor: 11, xLabelY: g.mxLabelY, yLabelX: g.myLabelX, yLabelDy: 15, size: 46});
  errBars(main, mx, my, kcnConc, res, resErrM, '#777', 4, 11);
  errBars(main, mx, my, kcnConc, unc, uncErrM, '#777', 4, 11);
  circles(main, 'point-res-main', mx, my, kcnConc, res, 12, '#fff', color, 5);
  circles(main, 'point-unc-main', mx, my, kcnConc, unc, 14, color);
  const inset = mk('g', 'panel-' + id + '-inset-plot', root);
  const ix = scale(0, g.ix0, 200, g.ix200), iy = scale(0, g.iy0, 100, g.iy100);
  drawAxes(inset, ix, iy, {xStart: 0, yStart: 0, yTop: g.iTop, xRight: g.iRight, xTicks: insetXTicks, xMinor: insetXMinor,
    yTicks: insetYTicks, yMinor: insetYMinor, major: 13, minor: 11, xLabelY: g.ixLabelY, yLabelX: g.iyLabelX, yLabelDy: 12, size: 46});
  const ixs = kcnConc.slice(0, 7);
  return {inset, ix, iy, ixs, main, mx, my};
}

// Panel B
const pB = kineticsPanel('b', {mx0: 207, mx3000: 785, my0: 1448, my100: 844, mTop: 815, mRight: 880, mxLabelY: 1527, myLabelX: 160,
  ix0: 451, ix200: 860, iy0: 1125, iy100: 834, iTop: 830, iRight: 878, ixLabelY: 1194, iyLabelX: 412},
  bRes, bUnc, bResErrMain, bUncErrMain, null, null, '#000');
drawCurve(pB.inset, 'fit-curve-res', bResCurveX, bResCurveY, pB.ix, pB.iy, '#000', 6, '24 16');
drawCurve(pB.inset, 'fit-curve-unc', bUncCurveX, bUncCurveY, pB.ix, pB.iy, '#000', 6);
errBars(pB.inset, pB.ix, pB.iy, pB.ixs, bRes.slice(0, 7), bResErrInset, '#666', 5, 12);
errBars(pB.inset, pB.ix, pB.iy, pB.ixs, bUnc.slice(0, 7), bUncErrInset, '#666', 5, 12);
circles(pB.inset, 'point-res-inset', pB.ix, pB.iy, pB.ixs, bRes.slice(0, 7), 10, '#fff', '#000', 5);
circles(pB.inset, 'point-unc-inset', pB.ix, pB.iy, pB.ixs, bUnc.slice(0, 7), 11.5, '#000');
circles(pB.inset, 'fit-point-res', pB.ix, pB.iy, pB.ixs, bResFit, 6.5, '#f47b20');
circles(pB.inset, 'fit-point-unc', pB.ix, pB.iy, pB.ixs, bUncFit, 6.5, '#fdc010');

// Panel E
const pE = kineticsPanel('e', {mx0: 1065, mx3000: 1642, my0: 1450, my100: 841, mTop: 812, mRight: 1739, mxLabelY: 1521, myLabelX: 1023,
  ix0: 1310, ix200: 1720, iy0: 1119, iy100: 831, iTop: 826, iRight: 1739, ixLabelY: 1191, iyLabelX: 1270},
  eRes, eUnc, eResErrMain, eUncErrMain, null, null, '#e00000');
drawCurve(pE.inset, 'fit-curve-res', eResCurveX, eResCurveY, pE.ix, pE.iy, '#e00000', 7);
drawCurve(pE.inset, 'fit-curve-unc', eUncCurveX, eUncCurveY, pE.ix, pE.iy, '#e00000', 7);
errBars(pE.inset, pE.ix, pE.iy, pE.ixs, eRes.slice(0, 7), eResErrInset, '#777', 5, 12);
errBars(pE.inset, pE.ix, pE.iy, pE.ixs, eUnc.slice(0, 7), eUncErrInset, '#e00000', 5, 12);
circles(pE.inset, 'point-res-inset', pE.ix, pE.iy, pE.ixs, eRes.slice(0, 7), 9, '#fff', '#e00000', 5);
circles(pE.inset, 'point-unc-inset', pE.ix, pE.iy, pE.ixs, eUnc.slice(0, 7), 11, '#e00000');

// Panel H
const pH = kineticsPanel('h', {mx0: 1944, mx3000: 2518, my0: 1451, my100: 827, mTop: 795, mRight: 2613, mxLabelY: 1521, myLabelX: 1901,
  ix0: 2179, ix200: 2592, iy0: 1155, iy100: 831, iTop: 826, iRight: 2613, ixLabelY: 1222, iyLabelX: 2137},
  hRes, hUnc, hResErrMain, hUncErrMain, null, null, '#0b3cf0');
drawCurve(pH.inset, 'fit-curve-res', hResCurveX, hResCurveY, pH.ix, pH.iy, '#0b3cf0', 6, '24 18');
drawCurve(pH.inset, 'fit-curve-unc', hUncCurveX, hUncCurveY, pH.ix, pH.iy, '#0b3cf0', 6);
errBars(pH.inset, pH.ix, pH.iy, pH.ixs, hRes.slice(0, 7), hResErrInset, '#0b3cf0', 4, 11);
errBars(pH.inset, pH.ix, pH.iy, pH.ixs, hUnc.slice(0, 7), hUncErrInset, '#0b3cf0', 4, 11);
circles(pH.inset, 'point-res-inset', pH.ix, pH.iy, pH.ixs, hRes.slice(0, 7), 8, '#fff', '#0b3cf0', 5);
circles(pH.inset, 'point-unc-inset', pH.ix, pH.iy, pH.ixs, hUnc.slice(0, 7), 11, '#0b3cf0');

function couplingPanel(id, g, xs, ys, xe, ye, cx, cy, color, errColor, curveW) {
  const root = mk('g', 'panel-' + id + '-coupling-plot', chartsRoot);
  const sx = scale(0, g.x0, 100, g.x100), sy = scale(0, g.y0, 100, g.y100);
  drawAxes(root, sx, sy, {xStart: 0, yStart: 0, yTop: g.y100, xRight: g.x100, xTicks: pctTicks, xMinor: pctMinor,
    yTicks: pctTicks, yMinor: pctMinor, major: 13, minor: 11, xLabelY: 2437, yLabelX: g.yLabelX, yLabelDy: 15, size: 46, w: 3.5});
  drawCurve(root, 'fit-curve', cx, cy, sx, sy, color, curveW);
  errBars(root, sx, sy, xs, ys, ye, errColor, 4, 11);
  xErrBars(root, sx, sy, xs, ys, xe, errColor, 4, 11);
  squares(root, 'data-point', sx, sy, xs, ys, 36, color);
  const d = mk('line', 'identity-line', root);
  set(d, {x1: sx(0), y1: sy(0), x2: sx(100), y2: sy(100), stroke: '#999', 'stroke-width': 3.5, 'stroke-dasharray': '13 8'});
}
couplingPanel('c', {x0: 213, x100: 891, y0: 2368, y100: 1730, yLabelX: 173}, cResting, cUncoupled, cXErr, cYErr, cCurveX, cCurveY, '#000', '#666', 6);
couplingPanel('f', {x0: 1071, x100: 1747, y0: 2368, y100: 1736, yLabelX: 1031}, fResting, fUncoupled, fXErr, fYErr, fCurveX, fCurveY, '#e00000', '#e00000', 6);
couplingPanel('i', {x0: 1950, x100: 2628, y0: 2368, y100: 1736, yLabelX: 1909}, iResting, iUncoupled, iXErr, iYErr, iCurveX, iCurveY, '#0b3cf0', '#0b3cf0', 6);

// Panel J
(function () {
  const root = mk('g', 'panel-j-bar-chart', chartsRoot);
  const sy = scale(0, 3361, 1, 2731);
  const barX = i => 275 + i * 127.2;
  const barW = 68;
  jValues.forEach((v, i) => {
    const b = mk('rect', 'bar', root);
    const open = jStyle[i] === 'open';
    const inset = open ? 3 : 0;
    set(b, {x: barX(i) - barW / 2 + inset, y: sy(v) + inset, width: barW - 2 * inset, height: sy(0) - sy(v) - inset,
      fill: open ? '#fff' : jColors[i]});
    if (open) set(b, {stroke: jColors[i], 'stroke-width': 6});
  });
  errBars(root, barX, sy, jValues.map((v, i) => i), jValues, jErrors, '#000', 4, 14);
  const x0 = 213;
  segment(root, 'y-axis-line', x0, sy(0), x0, sy(1), '#000', 3.5);
  jTicks.forEach(v => {
    segment(root, 'y-tick', x0, sy(v), x0 - 15, sy(v), '#000', 3.5);
    label(root, 'y-tick-label', v.toFixed(1), 171, sy(v) + 15, 'end', 46);
  });
  jMinor.forEach(v => segment(root, 'y-minor-tick', x0, sy(v), x0 - 15, sy(v), '#000', 3.5));
})();

// Panel K inset bars
(function () {
  const root = mk('g', 'panel-k-bar-chart', chartsRoot);
  const sy = scale(0, 3683, 1.4, 3262);
  const barX = i => 1411 + i * 81;
  kValues.forEach((v, i) => {
    const b = mk('rect', 'bar', root);
    set(b, {x: barX(i) - 28, y: sy(v), width: 57, height: sy(0) - sy(v), fill: '#000'});
  });
  errBars(root, barX, sy, kValues.map((v, i) => i), kValues, kErrors, '#666', 4, 11);
  segment(root, 'x-axis-line', 1371, sy(0), 1612, sy(0), '#ccc', 3);
  segment(root, 'y-axis-line', 1371, sy(0), 1371, sy(1.4), '#000', 3);
  kTicks.forEach(v => {
    segment(root, 'y-tick', 1371, sy(v), 1358, sy(v), '#000', 3);
    label(root, 'y-tick-label', v.toFixed(1), 1331, sy(v) + 15, 'end', 46);
  });
})();

// Decorative saturated-pixel speckle on the blot
(function () {
  const host = document.getElementById('wb-speckle');
  const cols = ['#b040b0', '#30a040', '#e0902a', '#20b0c0', '#3050d0', '#c8c040', '#7a4fb0'];
  const groups = [[2013, 3134, 6, 6], [2013, 3395, 3, 3], [2003, 3447, 6, 3], [1684, 3409, 2, 9], [1680, 3109, 1, 3], [2048, 3697, 5, 4]];
  groups.forEach(gr => {
    for (let r = 0; r < gr[3]; r++) {
      for (let c = 0; c < gr[2]; c++) {
        const s = mk('rect', 'speckle', host);
        set(s, {x: gr[0] + (c - gr[2] / 2) * 9.5, y: gr[1] + (r - gr[3] / 2) * 9.5, width: 9.5, height: 9.5,
          fill: cols[(r * 3 + c * 2) % cols.length]});
      }
    }
  });
  const reds = [[2010, 3134], [2013, 3398], [1999, 3447], [1684, 3307], [2040, 3699]];
  reds.forEach(p => {
    const k = mk('circle', 'speckle-core', host);
    set(k, {cx: p[0], cy: p[1], r: 8, fill: '#111'});
    const d = mk('circle', 'speckle-center', host);
    set(d, {cx: p[0], cy: p[1], r: 3, fill: '#e01020'});
  });
})();
</script>
</body>
</html>
